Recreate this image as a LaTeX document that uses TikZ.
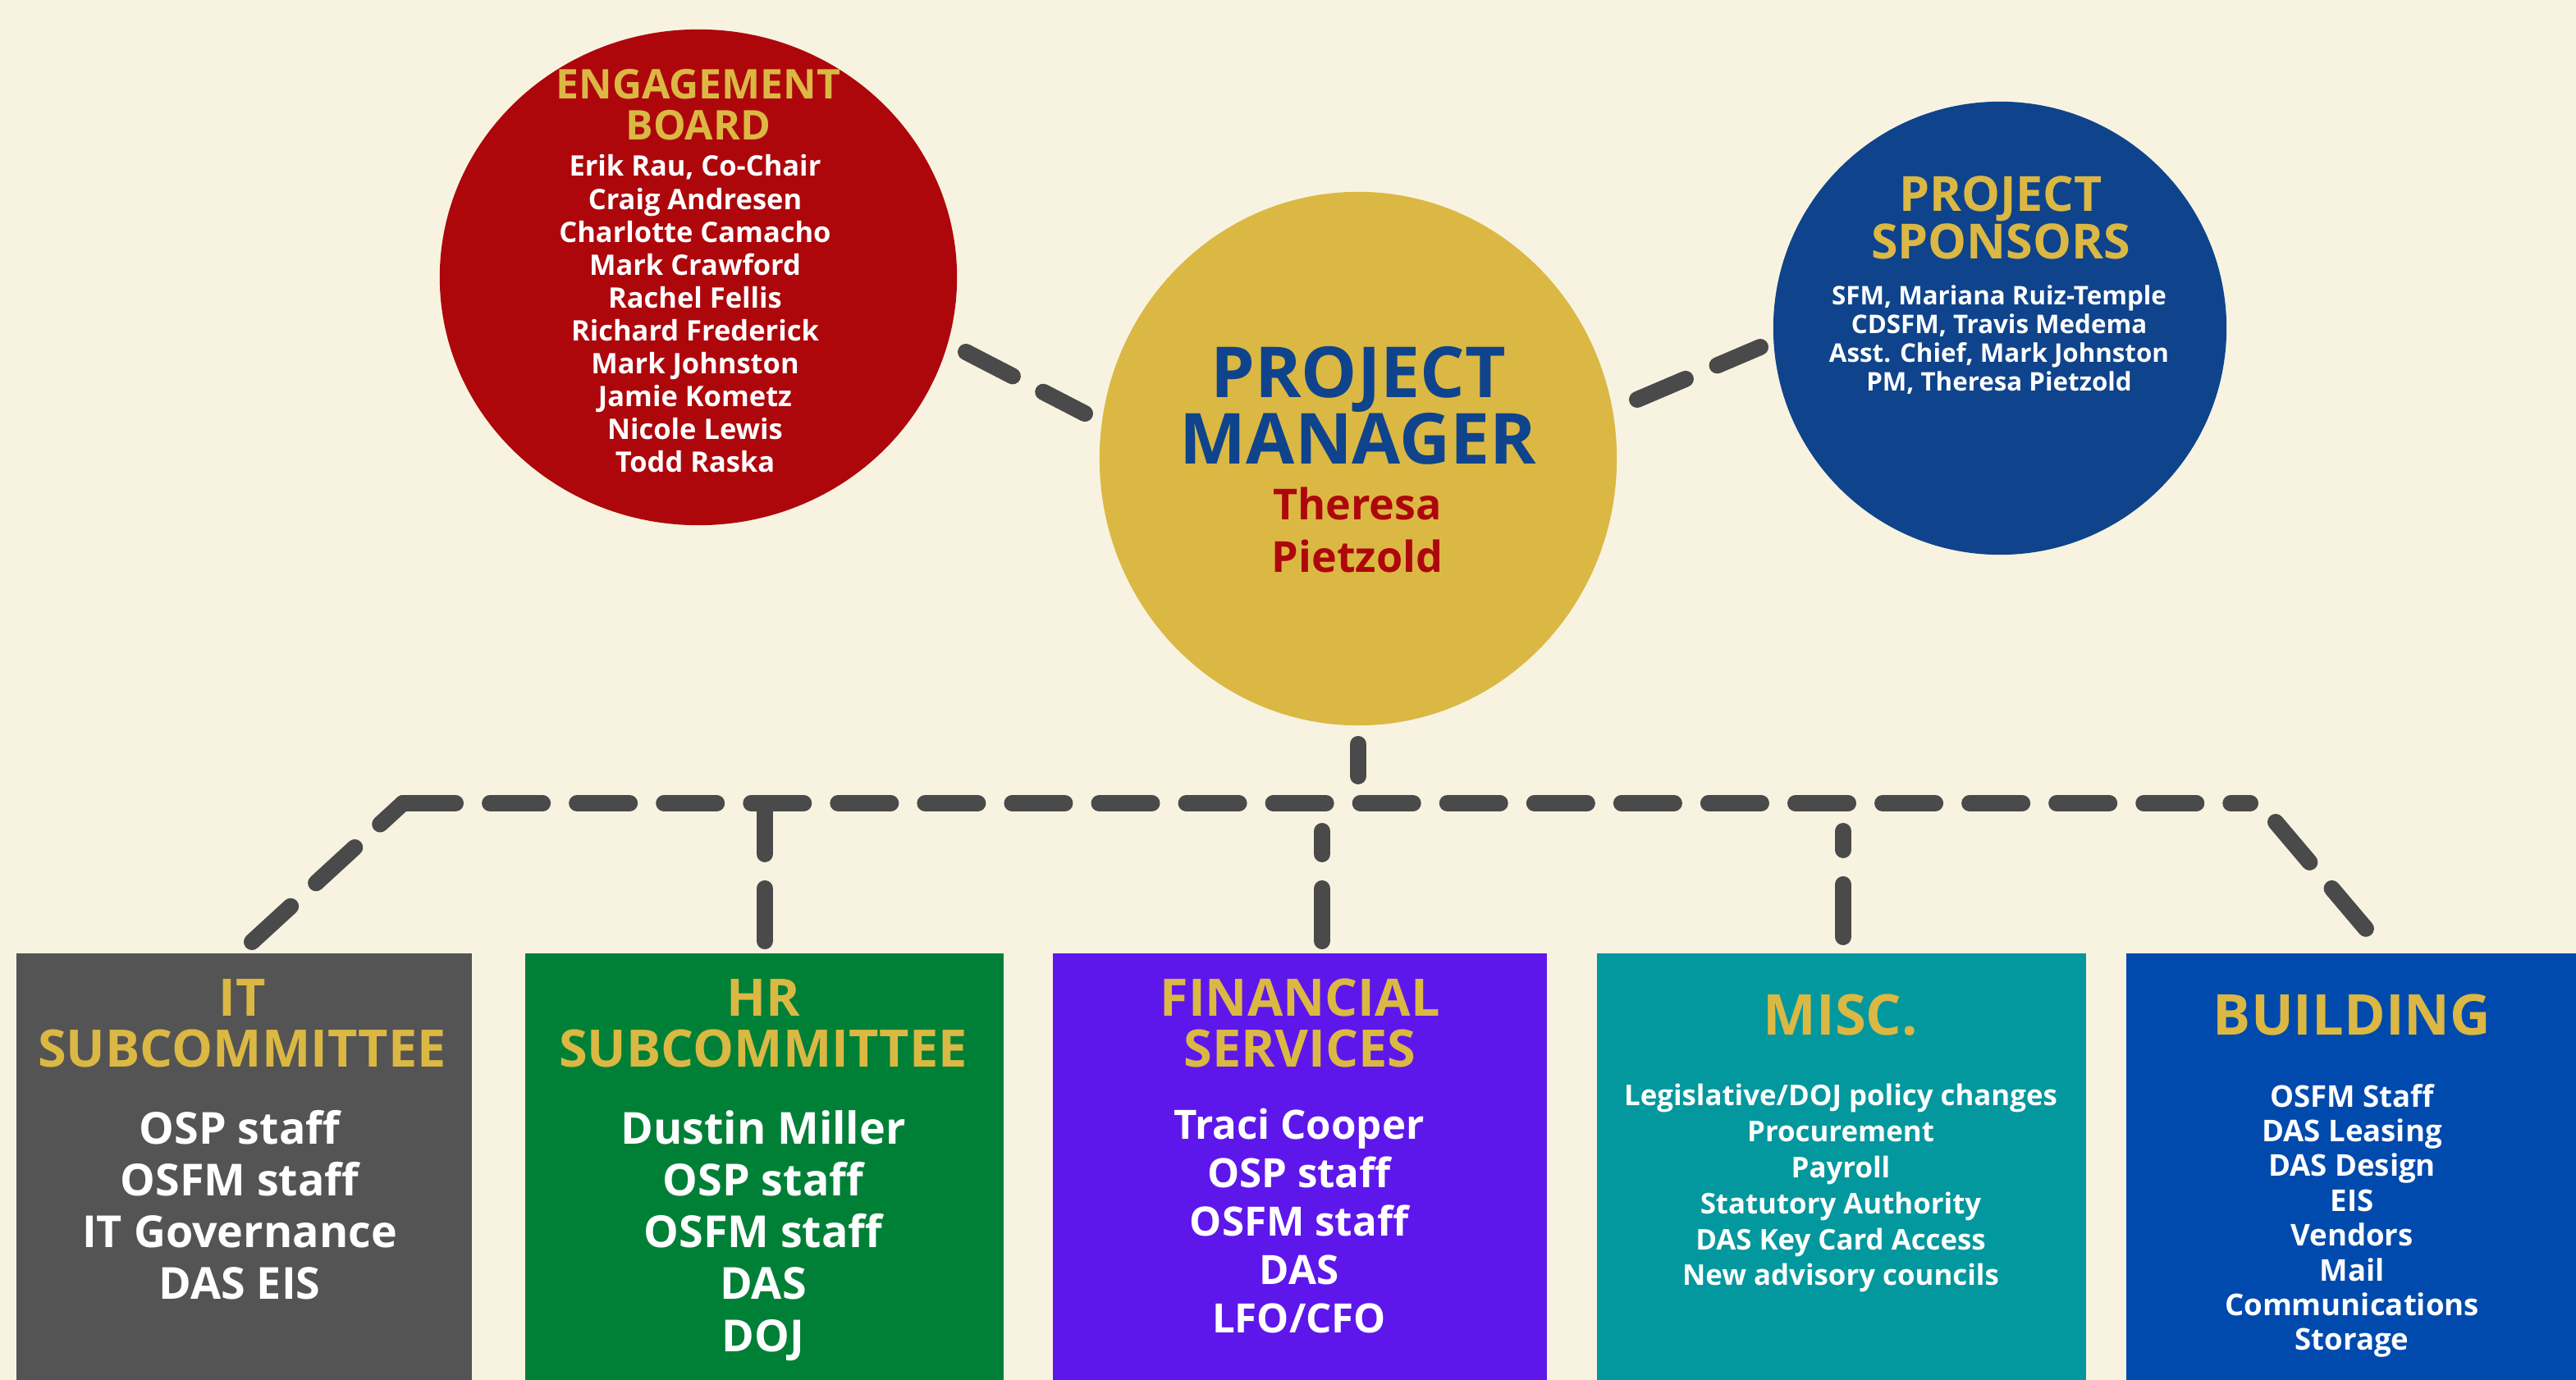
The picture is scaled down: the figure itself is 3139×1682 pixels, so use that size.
\documentclass[tikz,border=0pt]{standalone}
\usepackage{fontspec}
\setmainfont{Open Sans}
\usetikzlibrary{shapes.geometric}
\definecolor{bg}{HTML}{F8F3E1}
\definecolor{ebred}{HTML}{AD070C}
\definecolor{gold}{HTML}{DBB843}
\definecolor{spblue}{HTML}{0F448C}
\definecolor{itgray}{HTML}{545454}
\definecolor{hrgreen}{HTML}{008037}
\definecolor{finpurple}{HTML}{5E17EB}
\definecolor{miscteal}{HTML}{03989E}
\definecolor{bldblue}{HTML}{004AAD}
\definecolor{conngray}{HTML}{4A4A4A}
\tikzset{
  blob/.style={inner sep=0pt, draw=none},
  box/.style={rectangle, inner sep=0pt, draw=none, anchor=north west},
  txt/.style={anchor=base, inner sep=0pt, font=\bfseries},
  conn/.style={draw=conngray, line width=0.2cm, line cap=round, dash pattern=on 0.64cm off 0.42cm},
}
\newcommand{\fs}[1]{\fontsize{#1}{#1}\selectfont}
\begin{document}
\begin{tikzpicture}[x=0.01cm,y=-0.01cm]
\useasboundingbox (0,0) rectangle (3139,1682);
\fill[bg] (0,0) rectangle (3139,1682);

% circles
\node[blob, ellipse, fill=ebred, minimum width=6.30cm, minimum height=6.04cm] (eb) at (851,338) {};
\node[blob, ellipse, fill=gold, minimum width=6.30cm, minimum height=6.50cm] (pm) at (1655,559) {};
\node[blob, circle, fill=spblue, minimum size=5.52cm] (sp) at (2437,400) {};

% boxes
\node[box, fill=itgray, minimum width=5.55cm, minimum height=5.21cm] (it) at (19,1161) {};
\node[box, fill=hrgreen, minimum width=5.83cm, minimum height=5.21cm] (hr) at (639,1161) {};
\node[box, fill=finpurple, minimum width=6.02cm, minimum height=5.21cm] (fin) at (1282,1161) {};
\node[box, fill=miscteal, minimum width=5.96cm, minimum height=5.21cm] (misc) at (1945,1161) {};
\node[box, fill=bldblue, minimum width=5.49cm, minimum height=5.21cm] (bld) at (2590,1161) {};

% engagement board text
\node[txt, text=gold, font=\bfseries\fs{14.2}] (ebt1) at (851,121) {ENGAGEMENT};
\node[txt, text=gold, font=\bfseries\fs{14.2}] (ebt2) at (851,171) {BOARD};
\foreach \t [count=\i] in {{Erik Rau, Co-Chair},{Craig Andresen},{Charlotte Camacho},{Mark Crawford},{Rachel Fellis},{Richard Frederick},{Mark Johnston},{Jamie Kometz},{Nicole Lewis},{Todd Raska}}
  \node[txt, text=white, font=\bfseries\fs{9.8}] (ebn\i) at (847,175+40*\i) {\t};

% project manager text
\node[txt, text=spblue, font=\bfseries\fs{24.4}] (pmt1) at (1655,484) {PROJECT};
\node[txt, text=spblue, font=\bfseries\fs{24.4}] (pmt2) at (1655,565) {MANAGER};
\node[txt, text=ebred, font=\bfseries\fs{14.8}] (pmn1) at (1654,633) {Theresa};
\node[txt, text=ebred, font=\bfseries\fs{14.8}] (pmn2) at (1654,697) {Pietzold};

% sponsors text
\node[txt, text=gold, font=\bfseries\fs{16.8}] (spt1) at (2438,258) {PROJECT};
\node[txt, text=gold, font=\bfseries\fs{16.8}] (spt2) at (2438,315) {SPONSORS};
\foreach \t [count=\i] in {{SFM, Mariana Ruiz-Temple},{CDSFM, Travis Medema},{Asst. Chief, Mark Johnston},{PM, Theresa Pietzold}}
  \node[txt, text=white, font=\bfseries\fs{8.9}] (spn\i) at (2436,336+35*\i) {\t};

% IT box
\node[txt, text=gold, font=\bfseries\fs{17.9}] (itt1) at (295,1238) {IT};
\node[txt, text=gold, font=\bfseries\fs{17.9}] (itt2) at (295,1300) {SUBCOMMITTEE};
\foreach \t [count=\i] in {{OSP staff},{OSFM staff},{IT Governance},{DAS EIS}}
  \node[txt, text=white, font=\bfseries\fs{15.3}] (itn\i) at (292,1331+63*\i) {\t};

% HR box
\node[txt, text=gold, font=\bfseries\fs{17.9}] (hrt1) at (930,1238) {HR};
\node[txt, text=gold, font=\bfseries\fs{17.9}] (hrt2) at (930,1300) {SUBCOMMITTEE};
\foreach \t [count=\i] in {{Dustin Miller},{OSP staff},{OSFM staff},{DAS},{DOJ}}
  \node[txt, text=white, font=\bfseries\fs{15.3}] (hrn\i) at (930,1330.7+63.3*\i) {\t};

% financial box
\node[txt, text=gold, font=\bfseries\fs{17.9}] (fint1) at (1584,1238) {FINANCIAL};
\node[txt, text=gold, font=\bfseries\fs{17.9}] (fint2) at (1584,1300) {SERVICES};
\foreach \t [count=\i] in {{Traci Cooper},{OSP staff},{OSFM staff},{DAS},{LFO/CFO}}
  \node[txt, text=white, font=\bfseries\fs{14}] (finn\i) at (1583,1329+59*\i) {\t};

% misc box
\node[txt, text=gold, font=\bfseries\fs{19.5}] (misct) at (2243,1261) {MISC.};
\foreach \t [count=\i] in {{Legislative/DOJ policy changes},{Procurement},{Payroll},{Statutory Authority},{DAS Key Card Access},{New advisory councils}}
  \node[txt, text=white, font=\bfseries\fs{9.9}] (miscn\i) at (2243,1303.5+43.9*\i) {\t};

% building box
\node[txt, text=gold, font=\bfseries\fs{19.5}] (bldt) at (2866,1261) {BUILDING};
\foreach \t [count=\i] in {{OSFM Staff},{DAS Leasing},{DAS Design},{EIS},{Vendors},{Mail},{Communications},{Storage}}
  \node[txt, text=white, font=\bfseries\fs{10.4}] (bldn\i) at (2866,1306.6+42.4*\i) {\t};

% connector end points
\coordinate (ebR) at (1177,429);
\coordinate (pmL) at (1322,504);
\coordinate (pmR) at (1995,487);
\coordinate (spL) at (2145,423);
\coordinate (pmB) at (1655,907);
\coordinate (busTop) at (1655,946);
\coordinate (busL) at (491,979);
\coordinate (busR) at (2742,979);
\coordinate (itT) at (307,1148);
\coordinate (busRd) at (2773,1002);
\coordinate (bldT) at (2883,1132);
\coordinate (hrT) at (932,1147);
\coordinate (hrBus) at (932,979);
\coordinate (finT) at (1611,1147);
\coordinate (finBus) at (1611,1013);
\coordinate (miscT) at (2246,1142);
\coordinate (miscBus) at (2246,1013);

% connectors
\draw[conn] (ebR) -- (pmL);
\draw[conn] (pmR) -- (spL);
\draw[conn] (pmB) -- (busTop);
\draw[conn] (busL) -- (busR);
\draw[conn] (itT) -- (busL);
\draw[conn] (busRd) -- (bldT);
\draw[conn] (hrT) -- (hrBus);
\draw[conn] (finT) -- (finBus);
\draw[conn] (miscT) -- (miscBus);
\end{tikzpicture}
\end{document}
